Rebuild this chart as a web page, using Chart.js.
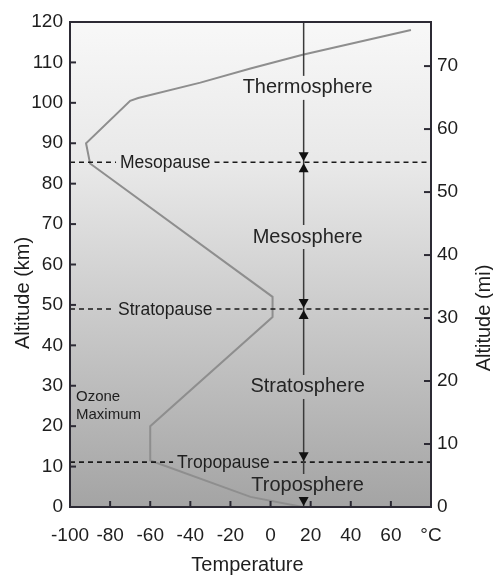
<!DOCTYPE html>
<html>
<head>
<meta charset="utf-8">
<script src="https://cdn.jsdelivr.net/npm/chart.js@4"></script>
<style>
html,body{margin:0;padding:0;background:#fff;}
#wrap{width:493px;height:578px;}
</style>
</head>
<body>
<div id="wrap"><canvas id="c" width="493" height="578"></canvas></div>
<script>
// Temperature profile (°C) vs altitude (km)
const profileTemps     = [16, -10, -60, -60, 1, 1, -90, -92, -70, -66, -35, -10, 16, 70];
const profileAltitudes = [0, 2.5, 11.5, 20, 47, 52, 85, 90, 100.5, 101.2, 105, 108.5, 111.9, 118];

// Boundaries (pauses)
const pauseNames     = ['Mesopause', 'Stratopause', 'Tropopause'];
const pauseAltitudes = [85.3, 49, 11.1];
const pauseLabelTemps = [-52.5, -52.5, -23.5];

// Layers
const layerNames     = ['Thermosphere', 'Mesosphere', 'Stratosphere', 'Troposphere'];
const layerLabelAlts = [103.7, 66.8, 29.7, 5.2];
const layerLabelTemp = 18.5;
const dividerTemp = 16.5;

// Axis tick settings
const tempMin = -100, tempMax = 80, tempStep = 20;
const kmMin = 0, kmMax = 120, kmStep = 10;
const miMin = 0, miMax = 77, miStep = 10;
const lastTempLabel = '°C';

const FONT = "'Liberation Sans', Arial, sans-serif";
const TXT = '#1e1e1e';
const FRAME = '#2c2a34';

const points = profileTemps.map((t, i) => ({x: t, y: profileAltitudes[i]}));

const annot = {
  id: 'annot',
  beforeDraw(chart) {
    const {ctx, chartArea: a} = chart;
    ctx.save();
    ctx.fillStyle = '#fff';
    ctx.fillRect(0, 0, chart.width, chart.height);
    const g = ctx.createLinearGradient(0, a.top, 0, a.bottom);
    g.addColorStop(0, '#f8f8f8');
    g.addColorStop(0.3, '#e8e8e8');
    g.addColorStop(0.65, '#c6c6c6');
    g.addColorStop(1, '#a4a4a4');
    ctx.fillStyle = g;
    ctx.fillRect(a.left, a.top, a.right - a.left, a.bottom - a.top);
    ctx.restore();
  },
  afterDraw(chart) {
    const {ctx, chartArea: a} = chart;
    const xs = chart.scales.x, ys = chart.scales.y, y2 = chart.scales.y2;
    ctx.save();

    // pause dashed lines with labels
    ctx.font = `17.5px ${FONT}`;
    ctx.textBaseline = 'middle';
    ctx.textAlign = 'center';
    pauseNames.forEach((name, i) => {
      const py = ys.getPixelForValue(pauseAltitudes[i]);
      const cx = xs.getPixelForValue(pauseLabelTemps[i]);
      const w = ctx.measureText(name).width;
      const gap = 4;
      ctx.strokeStyle = '#1a1a1a';
      ctx.lineWidth = 1.6;
      ctx.setLineDash([5, 4]);
      ctx.beginPath();
      ctx.moveTo(a.left, py); ctx.lineTo(cx - w / 2 - gap, py);
      ctx.stroke();
      ctx.beginPath();
      ctx.moveTo(cx + w / 2 + gap, py); ctx.lineTo(a.right, py);
      ctx.stroke();
      ctx.setLineDash([]);
      ctx.fillStyle = TXT;
      ctx.fillText(name, cx, py + 1);
    });

    // vertical divider line with gaps for layer labels
    const vx = xs.getPixelForValue(dividerTemp);
    const gaps = layerLabelAlts.map(alt => {
      const py = ys.getPixelForValue(alt);
      return [py - 12, py + 12];
    }).sort((p, q) => p[0] - q[0]);
    ctx.strokeStyle = '#3a3a3a';
    ctx.lineWidth = 1.5;
    let cur = a.top;
    gaps.forEach(([g0, g1]) => {
      if (g0 > cur) {
        ctx.beginPath(); ctx.moveTo(vx, cur); ctx.lineTo(vx, g0); ctx.stroke();
      }
      cur = Math.max(cur, g1);
    });
    if (cur < a.bottom) {
      ctx.beginPath(); ctx.moveTo(vx, cur); ctx.lineTo(vx, a.bottom); ctx.stroke();
    }

    // arrows
    const aw = 5, ah = 9;
    ctx.fillStyle = '#111';
    const down = (tipY) => {
      ctx.beginPath();
      ctx.moveTo(vx, tipY); ctx.lineTo(vx - aw, tipY - ah); ctx.lineTo(vx + aw, tipY - ah);
      ctx.closePath(); ctx.fill();
    };
    const up = (tipY) => {
      ctx.beginPath();
      ctx.moveTo(vx, tipY); ctx.lineTo(vx - aw, tipY + ah); ctx.lineTo(vx + aw, tipY + ah);
      ctx.closePath(); ctx.fill();
    };
    pauseAltitudes.forEach((alt, i) => {
      const py = ys.getPixelForValue(alt);
      down(py - 1);
      if (i < 2) up(py + 1);
    });
    down(ys.getPixelForValue(0) - 1);

    // layer labels
    ctx.font = `20px ${FONT}`;
    ctx.fillStyle = '#252525';
    ctx.textAlign = 'center';
    layerNames.forEach((name, i) => {
      ctx.fillText(name, xs.getPixelForValue(layerLabelTemp), ys.getPixelForValue(layerLabelAlts[i]));
    });

    // ozone maximum
    ctx.font = `15px ${FONT}`;
    ctx.textAlign = 'left';
    ctx.fillStyle = TXT;
    ctx.fillText('Ozone', a.left + 6, 397);
    ctx.fillText('Maximum', a.left + 6, 415);

    // frame
    ctx.strokeStyle = FRAME;
    ctx.lineWidth = 2;
    ctx.strokeRect(a.left, a.top, a.right - a.left, a.bottom - a.top);

    // inward ticks
    ctx.lineWidth = 2;
    xs.ticks.forEach(t => {
      const px = xs.getPixelForValue(t.value);
      ctx.beginPath(); ctx.moveTo(px, a.bottom); ctx.lineTo(px, a.bottom - 6); ctx.stroke();
    });
    ys.ticks.forEach(t => {
      const py = ys.getPixelForValue(t.value);
      ctx.beginPath(); ctx.moveTo(a.left, py); ctx.lineTo(a.left + 6, py); ctx.stroke();
    });
    y2.ticks.forEach(t => {
      const py = y2.getPixelForValue(t.value);
      ctx.beginPath(); ctx.moveTo(a.right, py); ctx.lineTo(a.right - 7, py); ctx.stroke();
    });

    // axis titles
    ctx.fillStyle = TXT;
    ctx.font = `20px ${FONT}`;
    ctx.textAlign = 'center';
    ctx.textBaseline = 'middle';
    ctx.fillText('Temperature', (a.left + a.right) / 2 - 3, 565);
    ctx.save();
    ctx.translate(23, 293);
    ctx.rotate(-Math.PI / 2);
    ctx.fillText('Altitude (km)', 0, 0);
    ctx.restore();
    ctx.save();
    ctx.translate(484, 318);
    ctx.rotate(-Math.PI / 2);
    ctx.fillText('Altitude (mi)', 0, 0);
    ctx.restore();

    ctx.restore();
  }
};

new Chart(document.getElementById('c'), {
  type: 'line',
  data: {
    datasets: [{
      data: points,
      borderColor: '#8e8e8e',
      borderWidth: 2,
      pointRadius: 0,
      tension: 0,
      fill: false
    }]
  },
  options: {
    responsive: false,
    animation: false,
    devicePixelRatio: 1,
    layout: {padding: {top: 22, left: 0, right: 0, bottom: 0}},
    plugins: {legend: {display: false}, tooltip: {enabled: false}},
    scales: {
      x: {
        type: 'linear',
        min: tempMin, max: tempMax,
        grid: {display: false, drawTicks: false},
        border: {display: false},
        ticks: {
          stepSize: tempStep,
          autoSkip: false,
          padding: 17,
          color: TXT,
          font: {size: 19, family: FONT},
          maxRotation: 0,
          minRotation: 0,
          callback: v => v === tempMax ? lastTempLabel : String(v)
        },
        afterFit: s => { s.height = 71; }
      },
      y: {
        type: 'linear',
        position: 'left',
        min: kmMin, max: kmMax,
        grid: {display: false, drawTicks: false},
        border: {display: false},
        ticks: {stepSize: kmStep, autoSkip: false, padding: 7, color: TXT, font: {size: 19, family: FONT}},
        afterFit: s => { s.width = 70; }
      },
      y2: {
        type: 'linear',
        position: 'right',
        min: miMin, max: miMax,
        grid: {display: false, drawTicks: false},
        border: {display: false},
        ticks: {
          stepSize: miStep, includeBounds: false, autoSkip: false, padding: 6, color: TXT,
          font: {size: 19, family: FONT},
          callback: v => (v % miStep === 0 ? String(v) : '')
        },
        afterFit: s => { s.width = 62; }
      }
    }
  },
  plugins: [annot]
});
</script>
</body>
</html>
